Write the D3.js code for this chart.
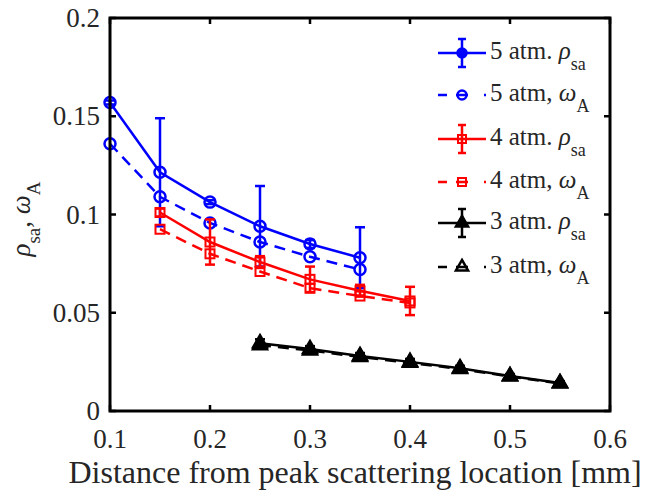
<!DOCTYPE html>
<html>
<head>
<meta charset="utf-8">
<script src="https://cdn.jsdelivr.net/npm/d3@7"></script>
<style>
  body { margin: 0; background: #fff; }
</style>
</head>
<body>
<svg id="chart" width="649" height="495" font-family="'Liberation Serif', 'Times New Roman', 'DejaVu Serif', serif"></svg>
<script>
// data
const x5 = [0.1, 0.15, 0.2, 0.25, 0.3, 0.35];
const rho5 = [0.157, 0.1215, 0.1063, 0.094, 0.085, 0.078];
const rho5Err = [0.001, 0.0275, 0.001, 0.0205, 0.002, 0.0155];
const omega5 = [0.136, 0.109, 0.0957, 0.086, 0.0785, 0.072];

const x4 = [0.15, 0.2, 0.25, 0.3, 0.35, 0.4];
const rho4 = [0.101, 0.086, 0.0758, 0.067, 0.0612, 0.056];
const rho4Err = [0.002, 0.0115, 0.003, 0.0065, 0.003, 0.0072];
const omega4 = [0.0925, 0.080, 0.071, 0.0625, 0.0585, 0.055];

const x3 = [0.25, 0.3, 0.35, 0.4, 0.45, 0.5, 0.55];
const rho3 = [0.0345, 0.0315, 0.028, 0.025, 0.0218, 0.0178, 0.0142];
const rho3Err = [0.002, 0.0015, 0.0015, 0.0015, 0.0012, 0.001, 0.001];
const omega3 = [0.0335, 0.0308, 0.0275, 0.0245, 0.0214, 0.0175, 0.014];

const xTicks = [0.1, 0.2, 0.3, 0.4, 0.5, 0.6];
const yTicks = [0, 0.05, 0.1, 0.15, 0.2];

const svg = d3.select("#chart");
const mLeft = 110, mRight = 610, mTop = 18, mBottom = 411;

const x = d3.scaleLinear().domain([0.1, 0.6]).range([mLeft, mRight]);
const y = d3.scaleLinear().domain([0, 0.2]).range([mBottom, mTop]);

const series = [
  {xs: x5, ys: rho5, err: rho5Err, color: "#0000ff", marker: "circle", dashed: false, fill: false, lab: "5 atm. ", sym: "ρ", sub: "sa"},
  {xs: x5, ys: omega5, err: null, color: "#0000ff", marker: "circle", dashed: true, fill: false, lab: "5 atm, ", sym: "ω", sub: "A"},
  {xs: x4, ys: rho4, err: rho4Err, color: "#ff0000", marker: "square", dashed: false, fill: false, lab: "4 atm. ", sym: "ρ", sub: "sa"},
  {xs: x4, ys: omega4, err: null, color: "#ff0000", marker: "square", dashed: true, fill: false, lab: "4 atm, ", sym: "ω", sub: "A"},
  {xs: x3, ys: rho3, err: rho3Err, color: "#000000", marker: "triangle", dashed: false, fill: true, lab: "3 atm. ", sym: "ρ", sub: "sa"},
  {xs: x3, ys: omega3, err: null, color: "#000000", marker: "triangle", dashed: true, fill: false, lab: "3 atm, ", sym: "ω", sub: "A"}
];

function drawMarker(g, type, cx, cy, color, fill, size) {
  if (type === "circle") {
    g.append("circle").attr("cx", cx).attr("cy", cy).attr("r", size)
      .attr("fill", fill ? color : "none").attr("stroke", color).attr("stroke-width", 2.5);
  } else if (type === "square") {
    g.append("rect").attr("x", cx - size).attr("y", cy - size)
      .attr("width", size * 2).attr("height", size * 2)
      .attr("fill", fill ? color : "none").attr("stroke", color).attr("stroke-width", 2);
  } else {
    const s = d3.symbol().type(d3.symbolTriangle).size(size * size * 1.3);
    g.append("path").attr("d", s()).attr("transform", `translate(${cx},${cy})`)
      .attr("fill", fill ? color : "none").attr("stroke", color).attr("stroke-width", 2.5);
  }
}

const plot = svg.append("g");
const line = d3.line().x(d => x(d[0])).y(d => y(d[1]));

series.forEach(s => {
  const pts = s.xs.map((v, i) => [v, s.ys[i]]);
  plot.append("path").attr("d", line(pts)).attr("fill", "none")
    .attr("stroke", s.color).attr("stroke-width", 2.5)
    .attr("stroke-dasharray", s.dashed ? "11,7" : null);
  if (s.err) {
    pts.forEach((p, i) => {
      const e = s.err[i];
      const px = x(p[0]), y1 = y(p[1] + e), y2 = y(p[1] - e);
      plot.append("line").attr("x1", px).attr("x2", px).attr("y1", y1).attr("y2", y2)
        .attr("stroke", s.color).attr("stroke-width", 2.5);
      [y1, y2].forEach(yy => plot.append("line").attr("x1", px - 5).attr("x2", px + 5)
        .attr("y1", yy).attr("y2", yy).attr("stroke", s.color).attr("stroke-width", 2.5));
    });
  }
  const msize = s.marker === "circle" ? 5.5 : (s.marker === "square" ? 4.5 : 8);
  pts.forEach(p => drawMarker(plot, s.marker, x(p[0]), y(p[1]), s.color, s.fill, msize));
});

// axes box with ticks on all sides
const axisG = svg.append("g");
const tickLen = 6;
xTicks.forEach(t => {
  axisG.append("line").attr("x1", x(t)).attr("x2", x(t)).attr("y1", mBottom).attr("y2", mBottom - tickLen)
    .attr("stroke", "#000").attr("stroke-width", 2.5);
  axisG.append("line").attr("x1", x(t)).attr("x2", x(t)).attr("y1", mTop).attr("y2", mTop + tickLen)
    .attr("stroke", "#000").attr("stroke-width", 2.5);
  axisG.append("text").attr("x", x(t)).attr("y", 448).attr("text-anchor", "middle")
    .attr("font-size", 27).attr("fill", "#262626").text(d3.format(".1f")(t));
});
yTicks.forEach(t => {
  axisG.append("line").attr("x1", mLeft).attr("x2", mLeft + tickLen).attr("y1", y(t)).attr("y2", y(t))
    .attr("stroke", "#000").attr("stroke-width", 2.5);
  axisG.append("line").attr("x1", mRight).attr("x2", mRight - tickLen).attr("y1", y(t)).attr("y2", y(t))
    .attr("stroke", "#000").attr("stroke-width", 2.5);
  axisG.append("text").attr("x", 100).attr("y", y(t) + 9).attr("text-anchor", "end")
    .attr("font-size", 27).attr("fill", "#262626").text(t === 0 ? "0" : String(t));
});
axisG.append("rect").attr("x", mLeft).attr("y", mTop).attr("width", mRight - mLeft).attr("height", mBottom - mTop)
  .attr("fill", "none").attr("stroke", "#000").attr("stroke-width", 3);

// axis labels
svg.append("text").attr("x", 355).attr("y", 483).attr("text-anchor", "middle")
  .attr("font-size", 32).attr("fill", "#262626").text("Distance from peak scattering location [mm]");

const yl = svg.append("text").attr("transform", "translate(30,219) rotate(-90)")
  .attr("text-anchor", "middle").attr("font-size", 27).attr("fill", "#262626");
yl.append("tspan").attr("font-style", "italic").text("ρ");
yl.append("tspan").attr("font-size", 19).attr("dy", 10).text("sa");
yl.append("tspan").attr("dy", -10).text(", ");
yl.append("tspan").attr("font-style", "italic").text("ω");
yl.append("tspan").attr("font-size", 19).attr("dy", 10).text("A");

// legend
const legY = [53, 95, 139, 182, 223, 267];
const leg = svg.append("g");
series.forEach((s, i) => {
  const ly = legY[i];
  leg.append("line").attr("x1", 438).attr("x2", 486).attr("y1", ly).attr("y2", ly)
    .attr("stroke", s.color).attr("stroke-width", 2.5)
    .attr("stroke-dasharray", s.dashed ? "9,9,12,16,2" : null);
  if (s.err) {
    leg.append("line").attr("x1", 462).attr("x2", 462).attr("y1", ly - 14).attr("y2", ly + 14)
      .attr("stroke", s.color).attr("stroke-width", 2.5);
    [ly - 14, ly + 14].forEach(yy => leg.append("line").attr("x1", 458).attr("x2", 466)
      .attr("y1", yy).attr("y2", yy).attr("stroke", s.color).attr("stroke-width", 2.5));
  }
  const msize = s.marker === "circle" ? 4.5 : (s.marker === "square" ? 4 : 7);
  drawMarker(leg, s.marker, 462, ly, s.color, s.fill || (s.err && s.marker !== "square"), msize);
  const t = leg.append("text").attr("x", 490).attr("y", ly + 6).attr("font-size", 25).attr("fill", "#262626");
  t.append("tspan").text(s.lab);
  t.append("tspan").attr("font-style", "italic").text(s.sym);
  t.append("tspan").attr("font-size", 18).attr("dy", 11).text(s.sub);
});
</script>
</body>
</html>
